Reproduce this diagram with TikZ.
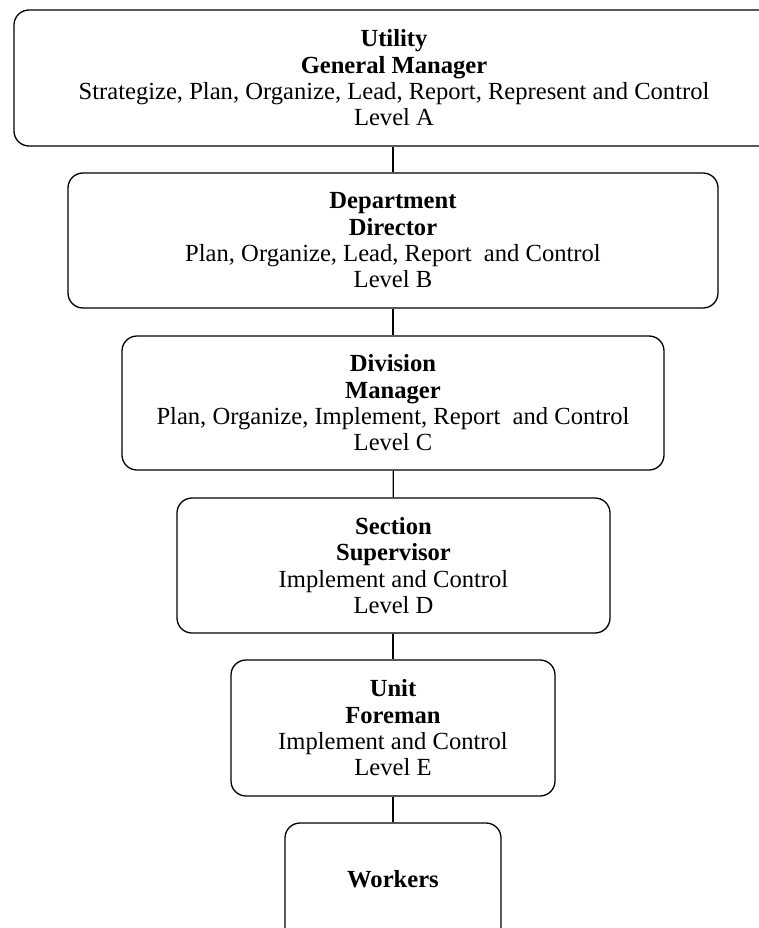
\documentclass[tikz,border=0pt]{standalone}
\usepackage{fontspec}
\setmainfont{Liberation Serif}
\begin{document}
\begin{tikzpicture}[x=1pt,y=-1pt,
  levelbox/.style={draw=black, line width=1.3pt, rounded corners=15pt,
    inner sep=0pt, align=center, font=\fontsize{24.6}{26.3}\selectfont},
  link/.style={draw=black, line width=1.2pt}]
\useasboundingbox (0,0) rectangle (759,928);
\clip (0,0) rectangle (759,928);

% organisational levels, top to bottom
\node[levelbox, minimum width=760pt, minimum height=136pt] (lvA) at (394,78)
  {\textbf{Utility}\\ \textbf{General Manager}\\
   Strategize, Plan, Organize, Lead, Report, Represent and Control\\ Level A};
\node[levelbox, minimum width=650pt, minimum height=135pt] (lvB) at (393,240.5)
  {\textbf{Department}\\ \textbf{Director}\\
   Plan, Organize, Lead, Report\ \ and Control\\ Level B};
\node[levelbox, minimum width=542pt, minimum height=134pt] (lvC) at (393,403)
  {\textbf{Division}\\ \textbf{Manager}\\
   Plan, Organize, Implement, Report\ \ and Control\\ Level C};
\node[levelbox, minimum width=433pt, minimum height=135pt] (lvD) at (393.5,565.5)
  {\textbf{Section}\\ \textbf{Supervisor}\\
   Implement and Control\\ Level D};
\node[levelbox, minimum width=324pt, minimum height=136pt] (lvE) at (393,728)
  {\textbf{Unit}\\ \textbf{Foreman}\\
   Implement and Control\\ Level E};
\node[levelbox, minimum width=216pt, minimum height=136pt] (wk) at (393,891) {};
\node[font=\fontsize{24.6}{26.3}\selectfont\bfseries, inner sep=0pt] (wklabel) at (393,879) {Workers};

% reporting lines
\draw[link] (lvA.south -| 393,0) -- (lvB.north);
\draw[link] (lvB) -- (lvC);
\draw[link] (lvC) -- (lvD);
\draw[link] (lvD.south -| 393,0) -- (lvE.north);
\draw[link] (lvE) -- (wk);
\end{tikzpicture}
\end{document}
